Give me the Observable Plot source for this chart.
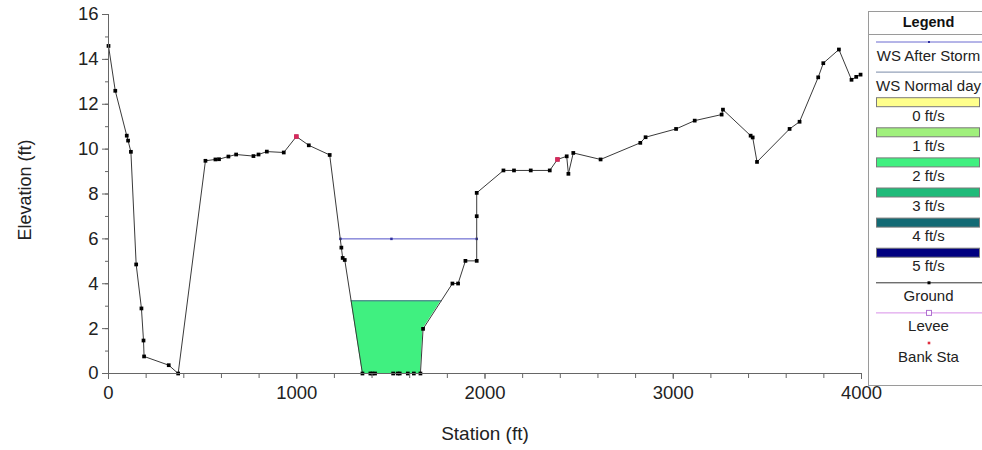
<!DOCTYPE html>
<html><head><meta charset="utf-8">
<script src="https://cdn.jsdelivr.net/npm/d3@7"></script>
<script src="https://cdn.jsdelivr.net/npm/@observablehq/plot@0.6"></script>
<style>
html,body{margin:0;padding:0;background:#fff;overflow:hidden;width:982px;height:450px;}
#wrap{position:relative;width:982px;height:450px;font-family:"Liberation Sans",Arial,sans-serif;}
#legend{position:absolute;left:868px;top:11px;width:121px;height:375px;border:1px solid #9a9a9a;box-sizing:border-box;background:#fff;}
#legend .hdr{position:absolute;left:0;top:0;width:100%;height:22px;border-bottom:1px solid #9a9a9a;font-weight:bold;font-size:14.5px;text-align:center;line-height:21px;color:#111;}
#legend .lbl{position:absolute;left:0;width:119px;text-align:center;font-size:15px;color:#222;line-height:16px;}
#legend svg{position:absolute;left:0;top:0;}
</style>
</head><body><div id="wrap"></div>
<script>
// ---- data ----
const groundStation = [0, 36, 97, 104, 119, 147, 175, 186, 189, 320, 370, 515, 568, 587, 637, 678, 770, 797, 841, 931, 998, 1064, 1175, 1237, 1244, 1255, 1349, 1391, 1402, 1416, 1512, 1536, 1547, 1590, 1622, 1657, 1671, 1827, 1857, 1896, 1956, 1956, 1956, 2098, 2154, 2243, 2344, 2385, 2434, 2443, 2469, 2614, 2825, 2853, 3015, 3114, 3257, 3264, 3411, 3422, 3445, 3618, 3671, 3770, 3797, 3880, 3947, 3972, 3995];
const groundElev = [14.6, 12.6, 10.6, 10.38, 9.88, 4.86, 2.9, 1.47, 0.76, 0.37, 0, 9.48, 9.54, 9.55, 9.67, 9.76, 9.69, 9.76, 9.89, 9.85, 10.56, 10.17, 9.74, 5.61, 5.15, 5.06, 0, 0, 0, 0, 0, 0, 0, 0, 0, 0, 1.99, 4.01, 4.01, 5.02, 5.02, 7.01, 8.05, 9.05, 9.05, 9.05, 9.05, 9.54, 9.68, 8.9, 9.83, 9.54, 10.28, 10.53, 10.9, 11.27, 11.54, 11.76, 10.6, 10.52, 9.43, 10.9, 11.22, 13.2, 13.83, 14.44, 13.09, 13.22, 13.32];
const bankStation = [998, 2385];
const bankElev = [10.56, 9.54];
const wsStormStation = [1232, 1503, 1956];
const wsStormElev = 6.0;
const wsNormalElev = 3.24;
const channelRange = [1175, 1956];
const xTicks = [0, 1000, 2000, 3000, 4000];
const yTicks = [0, 2, 4, 6, 8, 10, 12, 14, 16];
const legendLabels = ["WS After Storm", "WS Normal day", "0 ft/s", "1 ft/s", "2 ft/s", "3 ft/s", "4 ft/s", "5 ft/s", "Ground", "Levee", "Bank Sta"];
const velocityColors = ["#ffff8c", "#a0f07c", "#40f080", "#20bb7a", "#126a74", "#000080"];

// ---- derived tables ----
const ground = groundStation.map((s, i) => ({x: s, y: groundElev[i]}));
const bank = bankStation.map((s, i) => ({x: s, y: bankElev[i]}));
const storm = wsStormStation.map(s => ({x: s, y: wsStormElev}));

// wetted area below normal water surface within the main channel
const wet = [];
for (let i = 0; i < ground.length - 1; i++) {
  const a = ground[i], b = ground[i + 1];
  if (a.x < channelRange[0] || b.x > channelRange[1]) continue;
  const L = wsNormalElev;
  if (a.y <= L && (wet.length === 0 || wet[wet.length - 1].x !== a.x)) wet.push({x: a.x, y: a.y});
  if ((a.y - L) * (b.y - L) < 0) {
    const t = (L - a.y) / (b.y - a.y);
    wet.push({x: a.x + t * (b.x - a.x), y: L});
  }
  if (b.y <= L) wet.push({x: b.x, y: b.y});
}
const wetClean = wet.filter((d, i) => i === 0 || d.x !== wet[i - 1].x || d.y !== wet[i - 1].y);
const normalLine = [{x: wetClean[0].x, y: wsNormalElev}, {x: wetClean[wetClean.length - 1].x, y: wsNormalElev}];

const FONT = '"Liberation Sans", Arial, sans-serif';
const chart = Plot.plot({
  width: 982, height: 450,
  marginLeft: 108, marginRight: 121, marginTop: 14, marginBottom: 77,
  style: {fontFamily: FONT, fontSize: "18.5px", color: "#222", background: "transparent", overflow: "visible"},
  x: {domain: [0, 4000]},
  y: {domain: [0, 16]},
  marks: [
    Plot.areaY(wetClean, {x: "x", y1: "y", y2: wsNormalElev, fill: "#40f080", curve: "linear"}),
    Plot.line(normalLine, {x: "x", y: "y", stroke: "#4a6a8c", strokeWidth: 1}),
    Plot.line(storm, {x: "x", y: "y", stroke: "#5050c8", strokeWidth: 1}),
    Plot.dot(storm, {x: "x", y: "y", symbol: "square", r: 1.4, fill: "#3030a0"}),
    Plot.line(ground, {x: "x", y: "y", stroke: "#3a3a3a", strokeWidth: 1}),
    Plot.dot(ground, {x: "x", y: "y", symbol: "square", r: 2.1, fill: "#000"}),
    Plot.dot(bank, {x: "x", y: "y", symbol: "square", r: 2.6, fill: "#d8285c"}),
    Plot.axisX({ticks: d3.range(0, 4001, 200), tickSize: 5, text: null, label: null, stroke: "#666"}),
    Plot.axisX({ticks: xTicks, tickSize: 6, tickPadding: 6, label: null, stroke: "#666", tickFormat: d => String(d)}),
    Plot.axisY({ticks: d3.range(0, 17, 1), tickSize: 3, text: null, label: null, stroke: "#666"}),
    Plot.axisY({ticks: yTicks, tickSize: 6, tickPadding: 4, label: null, stroke: "#666"}),
    Plot.ruleX([0], {stroke: "#666"}),
    Plot.ruleY([0], {stroke: "#666"}),
    Plot.text(["Station (ft)"], {frameAnchor: "bottom", dy: 66, fontSize: 19, fill: "#222"}),
    Plot.text(["Elevation (ft)"], {frameAnchor: "left", textAnchor: "middle", dx: -83, dy: -4, rotate: -90, fontSize: 18, fill: "#222"})
  ]
});
const wrap = document.getElementById("wrap");
wrap.appendChild(chart);

// ---- legend ----
const lg = document.createElement("div");
lg.id = "legend";
wrap.appendChild(lg);
const hdr = document.createElement("div");
hdr.className = "hdr"; hdr.textContent = "Legend";
lg.appendChild(hdr);
const svgNS = "http://www.w3.org/2000/svg";
const svg = document.createElementNS(svgNS, "svg");
svg.setAttribute("width", 120); svg.setAttribute("height", 375);
lg.appendChild(svg);
function el(tag, attrs) { const e = document.createElementNS(svgNS, tag); for (const k in attrs) e.setAttribute(k, attrs[k]); svg.appendChild(e); return e; }
legendLabels.forEach((lab, i) => {
  const cy = 30 + i * 30.1;
  const x0 = 7, x1 = 119, xm = 60;
  if (i === 0) { el("line", {x1: x0, x2: x1, y1: cy, y2: cy, stroke: "#6a6ad0", "stroke-width": 1}); el("rect", {x: xm - 1, y: cy - 1, width: 2, height: 2, fill: "#3030a0"}); }
  else if (i === 1) { el("line", {x1: x0, x2: x1, y1: cy, y2: cy, stroke: "#7a8aa8", "stroke-width": 1}); }
  else if (i >= 2 && i <= 7) { el("rect", {x: x0 + 0.5, y: cy - 4.5, width: 103, height: 9, fill: velocityColors[i - 2], stroke: "#7a7a7a", "stroke-width": 1}); }
  else if (i === 8) { el("line", {x1: x0, x2: x1, y1: cy, y2: cy, stroke: "#333", "stroke-width": 1}); el("rect", {x: xm - 1.5, y: cy - 1.5, width: 3, height: 3, fill: "#000"}); }
  else if (i === 9) { el("line", {x1: x0, x2: x1, y1: cy, y2: cy, stroke: "#d890e8", "stroke-width": 1}); el("rect", {x: xm - 2.5, y: cy - 2.5, width: 5, height: 5, fill: "#fff", stroke: "#b070d0", "stroke-width": 1}); }
  else { el("rect", {x: xm - 1.3, y: cy - 1.3, width: 2.6, height: 2.6, fill: "#e03040"}); }
  const t = document.createElement("div");
  t.className = "lbl"; t.textContent = lab;
  t.style.top = (cy + 13.5 - 8) + "px";
  lg.appendChild(t);
});
</script>
</body></html>
